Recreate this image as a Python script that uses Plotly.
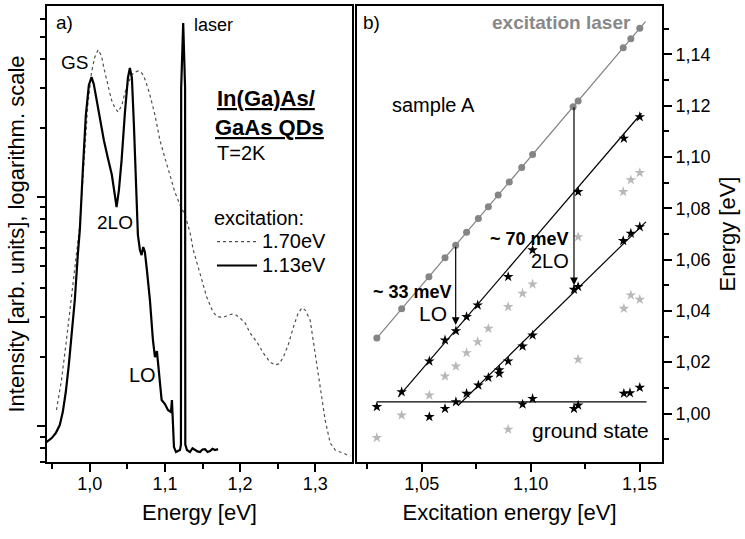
import plotly.graph_objects as go

FONT = "Liberation Sans, Arial, Helvetica, sans-serif"

# ---------------- panel a: PL spectra (log intensity) ----------------
e_170 = [0.9556, 0.9623, 0.9689, 0.9756, 0.9823, 0.9867, 0.9920, 0.9973, 1.0023, 1.0067,
         1.0111, 1.0156, 1.0187, 1.0223, 1.0289, 1.0333, 1.0377, 1.0427, 1.0467, 1.0507,
         1.0556, 1.0600, 1.0644, 1.0680, 1.0711, 1.0747, 1.0800, 1.0867, 1.0933, 1.1000,
         1.1067, 1.1133, 1.1200, 1.1267, 1.1333, 1.1377, 1.1423, 1.1467, 1.1507, 1.1556,
         1.1600, 1.1640, 1.1689, 1.1733, 1.1787, 1.1840, 1.1893, 1.1947, 1.2000, 1.2067,
         1.2133, 1.2223, 1.2311, 1.2400, 1.2467, 1.2520, 1.2577, 1.2640, 1.2711, 1.2773,
         1.2823, 1.2867, 1.2933, 1.3000, 1.3067, 1.3133, 1.3200, 1.3267, 1.3333, 1.3377,
         1.3427, 1.3467]
i_170 = [1.175, 1.588, 2.375, 3.66, 5.47, 7.55, 13.8, 25.2, 35.1, 40.9,
         43.9, 41.3, 36.6, 32.4, 26.5, 24.5, 23.5, 25.2, 28.5, 31.1,
         34.1, 35.1, 35.5, 35.1, 34.1, 31.8, 27.9, 22.8, 17.7, 14.8,
         12.5, 10.5, 9.23, 8.34, 7.03, 5.87, 5.20, 4.66, 4.13, 3.66,
         3.38, 3.15, 3.02, 2.99, 2.99, 3.05, 3.08, 3.05, 2.96, 2.82,
         2.55, 2.33, 2.08, 1.90, 1.85, 1.87, 2.00, 2.26, 2.71, 3.11,
         3.28, 3.21, 2.90, 2.08, 1.48, 1.06, 0.843, 0.786, 0.770, 0.762,
         0.747, 0.740]

e_113 = [0.9423, 0.9493, 0.9547, 0.9600, 0.9640, 0.9680, 0.9720, 0.9760, 0.9800, 0.9840,
         0.9867, 0.9907, 0.9947, 0.9987, 1.0023, 1.0053, 1.0093, 1.0133, 1.0187, 1.0240,
         1.0293, 1.0333, 1.0356, 1.0387, 1.0423, 1.0467, 1.0507, 1.0533, 1.0560, 1.0587,
         1.0613, 1.0640, 1.0667, 1.0689, 1.0711, 1.0733, 1.0760, 1.0800, 1.0840, 1.0867,
         1.0893, 1.0913, 1.0933, 1.0956, 1.1000, 1.1040, 1.1080, 1.1093, 1.1120, 1.1147,
         1.1200, 1.1213, 1.1216, 1.1243, 1.1268, 1.1271, 1.1293, 1.1333, 1.1367, 1.1400,
         1.1433, 1.1467, 1.1500, 1.1533, 1.1567, 1.1600, 1.1633, 1.1667, 1.1707]
i_113 = [0.851, 0.886, 0.932, 1.01, 1.151, 1.408, 1.847, 2.497, 3.55, 5.58,
         7.18, 13.12, 22.8, 30.8, 33.4, 31.1, 26.5, 21.7, 17.7, 14.8,
         12.5, 10.2, 9.04, 10.7, 14.5, 23.3, 33.1, 36.6, 33.1, 20.6,
         10.7, 6.83, 5.87, 5.58, 6.05, 5.75, 4.80, 3.55, 2.375, 2.001,
         2.126, 1.847, 1.510, 1.299, 1.248, 1.175, 1.151, 1.299, 0.810, 0.770,
         0.786, 0.830, 30.0, 57.5, 30.0, 0.830, 0.786, 0.770, 0.800, 0.786,
         0.775, 0.770, 0.790, 0.793, 0.770, 0.778, 0.795, 0.786, 0.793]

a_xticks = [1.0, 1.1, 1.2, 1.3]
a_xtext = ["1,0", "1,1", "1,2", "1,3"]
a_yticks = [1, 10]
a_yminor = [0.7, 0.8, 0.9, 2, 3, 4, 5, 6, 7, 8, 9, 20, 30, 40, 50, 60]

# ---------------- panel b: peak energies vs excitation ----------------
laser_x = [1.0294, 1.0408, 1.0533, 1.0607, 1.0656, 1.0706, 1.0760, 1.0806, 1.0851,
           1.0902, 1.0959, 1.1009, 1.1195, 1.1218, 1.1425, 1.1460, 1.1501]
laser_y = [1.0294, 1.0408, 1.0533, 1.0607, 1.0656, 1.0706, 1.0760, 1.0806, 1.0851,
           1.0902, 1.0959, 1.1009, 1.1195, 1.1218, 1.1425, 1.1460, 1.1501]
laser_line_x = [1.0294, 1.1527]
laser_line_y = [1.0294, 1.1527]

lo_x = [1.0408, 1.0535, 1.0607, 1.0657, 1.0706, 1.0757, 1.0897, 1.1009, 1.1218, 1.1428, 1.1501]
lo_y = [1.0084, 1.0204, 1.0286, 1.0322, 1.0377, 1.0422, 1.0533, 1.0637, 1.0864, 1.1072, 1.1156]
lo_line_x = [1.0393, 1.1509]
lo_line_y = [1.0065, 1.1170]

lo2_x = [1.0657, 1.0706, 1.0760, 1.0806, 1.0856, 1.0856, 1.0897, 1.0963, 1.1009,
         1.1199, 1.1218, 1.1425, 1.1460, 1.1501]
lo2_y = [1.0045, 1.0078, 1.0110, 1.0140, 1.0156, 1.0170, 1.0204, 1.0262, 1.0305,
         1.0483, 1.0494, 1.0673, 1.0702, 1.0727]
lo2_line_x = [1.0668, 1.1529]
lo2_line_y = [1.0032, 1.0747]

gs_x = [1.0294, 1.0535, 1.0607, 1.0963, 1.1009, 1.1199, 1.1218, 1.1428, 1.1456, 1.1501]
gs_y = [1.0026, 0.9987, 1.0019, 1.0036, 1.0058, 1.0019, 1.0032, 1.0078, 1.0080, 1.0101]
gs_line_x = [1.0294, 1.1532]
gs_line_y = [1.0045, 1.0045]

grey_x = [1.0294, 1.0408, 1.0535, 1.0607, 1.0657, 1.0706, 1.0757, 1.0806, 1.0897, 1.0963,
          1.1009, 1.0897, 1.1218, 1.1428, 1.1460, 1.1501, 1.1218, 1.1425, 1.1460, 1.1501]
grey_y = [0.9906, 0.9993, 1.0071, 1.0145, 1.0184, 1.0236, 1.0279, 1.0331, 1.0416, 1.0468,
          1.0504, 0.9938, 1.0211, 1.0409, 1.0461, 1.0444, 1.0688, 1.0864, 1.0910, 1.0938]

arrow_x = [1.0656, 1.1199]
arrow_from = [1.0656, 1.1199]
arrow_to = [1.0345, 1.0500]

b_xticks = [1.05, 1.10, 1.15]
b_xtext = ["1,05", "1,10", "1,15"]
b_xminor = [1.025, 1.075, 1.125]
b_yticks = [1.00, 1.02, 1.04, 1.06, 1.08, 1.10, 1.12, 1.14]
b_ytext = ["1,00", "1,02", "1,04", "1,06", "1,08", "1,10", "1,12", "1,14"]
b_yminor = [0.99, 1.01, 1.03, 1.05, 1.07, 1.09, 1.11, 1.13, 1.15]

W, H = 745, 539


def px(x):
    return x / W


def py(y):
    return 1 - y / H


fig = go.Figure()

fig.add_trace(go.Scatter(x=e_170, y=i_170, mode="lines",
                         name='<span style="font-size:20px">1.70eV</span>',
                         line=dict(color="#505050", width=1.2, dash="dot"),
                         xaxis="x", yaxis="y"))
fig.add_trace(go.Scatter(x=e_113, y=i_113, mode="lines",
                         name='<span style="font-size:20px">1.13eV</span>',
                         line=dict(color="black", width=2.2),
                         xaxis="x", yaxis="y"))

# panel b
fig.add_trace(go.Scatter(x=laser_line_x, y=laser_line_y, mode="lines", showlegend=False,
                         line=dict(color="#808080", width=1.2), xaxis="x2", yaxis="y2"))
fig.add_trace(go.Scatter(x=laser_x, y=laser_y, mode="markers", showlegend=False,
                         marker=dict(color="#858585", size=7, symbol="circle"),
                         xaxis="x2", yaxis="y2"))
for lx, ly in [(lo_line_x, lo_line_y), (lo2_line_x, lo2_line_y), (gs_line_x, gs_line_y)]:
    fig.add_trace(go.Scatter(x=lx, y=ly, mode="lines", showlegend=False,
                             line=dict(color="black", width=1.2), xaxis="x2", yaxis="y2"))
fig.add_trace(go.Scatter(x=grey_x, y=grey_y, mode="markers", showlegend=False,
                         marker=dict(color="#b8b8b8", size=8, symbol="star"),
                         xaxis="x2", yaxis="y2"))
for sx, sy in [(lo_x, lo_y), (lo2_x, lo2_y), (gs_x, gs_y)]:
    fig.add_trace(go.Scatter(x=sx, y=sy, mode="markers", showlegend=False,
                             marker=dict(color="black", size=8, symbol="star"),
                             xaxis="x2", yaxis="y2"))

x_a = [px(47), px(352)]
x_b = [px(357), px(662)]
y_dom = [py(462), py(6)]

axis_common = dict(showline=True, linewidth=2, linecolor="black", mirror=True,
                   ticks="outside", ticklen=8, tickwidth=1.5, tickcolor="black",
                   showgrid=False, zeroline=False,
                   tickfont=dict(family=FONT, size=18, color="black"))

fig.update_layout(
    width=W, height=H, margin=dict(l=0, r=0, t=0, b=0),
    paper_bgcolor="white", plot_bgcolor="white",
    font=dict(family=FONT, color="black"),
    xaxis=dict(domain=x_a, anchor="y", range=[0.943, 1.349],
               tickmode="array", tickvals=a_xticks, ticktext=a_xtext, ticklabelstandoff=-4,
               minor=dict(tickmode="linear", tick0=0.95, dtick=0.1, ticklen=5, tickwidth=1.5,
                          ticks="outside", tickcolor="black"),
               title=dict(text="Energy [eV]", font=dict(size=22), standoff=12),
               **axis_common),
    yaxis=dict(domain=y_dom, anchor="x", type="log", range=[-0.157, 1.834],
               tickmode="array", tickvals=a_yticks, showticklabels=False,
               minor=dict(tickmode="array", tickvals=a_yminor, ticklen=5, tickwidth=1.5,
                          ticks="outside", tickcolor="black"),
               title=dict(text="Intensity [arb. units], logarithm. scale",
                          font=dict(size=22), standoff=6),
               **axis_common),
    xaxis2=dict(domain=x_b, anchor="y2", range=[1.0203, 1.1603],
                tickmode="array", tickvals=b_xticks, ticktext=b_xtext, ticklabelstandoff=-4,
                minor=dict(tickmode="array", tickvals=b_xminor, ticklen=5, tickwidth=1.5,
                           ticks="outside", tickcolor="black"),
                title=dict(text="Excitation energy [eV]", font=dict(size=22), standoff=12),
                **axis_common),
    yaxis2=dict(domain=y_dom, anchor="x2", side="right", range=[0.9811, 1.1588],
                tickmode="array", tickvals=b_yticks, ticktext=b_ytext,
                minor=dict(tickmode="array", tickvals=b_yminor, ticklen=5, tickwidth=1.5,
                           ticks="outside", tickcolor="black"),
                title=dict(text="Energy [eV]", font=dict(size=22), standoff=10),
                **axis_common),
    legend=dict(x=px(212), y=py(204), xanchor="left", yanchor="top",
                bgcolor="rgba(0,0,0,0)", font=dict(size=16, family=FONT),
                title=dict(text='<span style="font-size:20px">excitation:</span>',
                           font=dict(size=16, family=FONT)),
                itemwidth=40, tracegroupgap=0, traceorder="normal"),
)


def ann(text, x, y, size=20, anchor="center", color="black"):
    fig.add_annotation(text=text, x=px(x), y=py(y), xref="paper", yref="paper",
                       showarrow=False, xanchor=anchor, yanchor="middle",
                       font=dict(family=FONT, size=size, color=color))


# panel a labels
ann("a)", 64, 22, 19)
ann("laser", 192, 25, 18, "left")
ann("GS", 74, 62, 19)
ann("2LO", 115, 222, 19)
ann("LO", 142, 375, 20)
ann("<b><u>In(Ga)As/</u></b>", 215, 99, 22, "left")
ann("<b><u>GaAs QDs</u></b>", 213, 127, 22, "left")
ann("T=2K", 215, 153, 20, "left")

# panel b labels
ann("b)", 371, 22, 19)
ann("<b>excitation laser</b>", 633, 22, 19, "right", "#888888")
ann("sample A", 433, 105, 20)
ann("<b>~ 70 meV</b>", 529, 239, 18)
ann("2LO", 550, 261, 20)
ann("<b>~ 33 meV</b>", 412, 292, 18)
ann("LO", 433, 313, 21)
ann("ground state", 590, 430, 21)

for ax_, a0, a1 in zip(arrow_x, arrow_from, arrow_to):
    fig.add_annotation(x=ax_, y=a1, ax=ax_, ay=a0, xref="x2", yref="y2",
                       axref="x2", ayref="y2", showarrow=True, arrowhead=2,
                       arrowsize=1.3, arrowwidth=1.2, arrowcolor="black", text="")

fig.write_html("out.html", config={"displayModeBar": False},
               post_script="document.body.style.margin='0';document.body.style.padding='0';")
